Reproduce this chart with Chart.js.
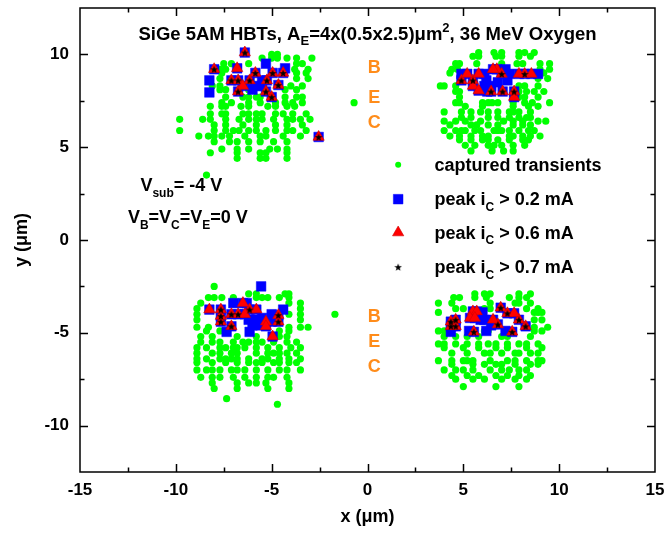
<!DOCTYPE html>
<html>
<head>
<meta charset="utf-8">
<script src="https://cdn.jsdelivr.net/npm/chart.js@4.4.1/dist/chart.umd.min.js"></script>
<style>
  html, body { margin: 0; padding: 0; background: #fff; }
  #wrap { width: 666px; height: 533px; }
</style>
</head>
<body>
<div id="wrap"><canvas id="chart" width="666" height="533"></canvas></div>
<script>
// Axis ticks (µm)
const xTicks = [-15, -10, -5, 0, 5, 10, 15];
const yTicks = [-10, -5, 0, 5, 10];
const minorStep = 2.5;

// Ion strike positions that produced a captured transient, grouped by row: [y, [x, ...]]
const capturedTopLeft = [
  [10.0, [-5.0, -4.7]],
  [9.8, [-5.5, -5.0, -4.7, -4.2, -3.7, -2.9]],
  [9.5, [-7.5, -7.1, -6.2, -3.7, -3.4]],
  [9.2, [-7.7, -7.4, -3.8, -3.1]],
  [9.0, [-7.6, -3.7, -3.2]],
  [8.7, [-7.7, -3.7, -3.1]],
  [8.3, [-8.1, -7.7, -4.0, -3.4]],
  [8.1, [-7.7, -7.4, -6.2, -4.3, -3.7]],
  [7.7, [-7.4, -6.5, -6.2, -5.8, -5.6, -4.3, -3.7, -3.4]],
  [7.4, [-7.6, -7.1, -6.2, -5.6, -4.8, -4.3, -3.9, -3.4]],
  [7.2, [-8.2, -7.6, -7.4, -6.6, -6.2, -5.2, -4.8, -4.2, -3.8]],
  [6.8, [-8.2, -7.6, -7.4, -6.5, -6.2, -5.8, -5.5, -4.8, -4.4, -3.9, -3.2]],
  [6.5, [-9.8, -8.6, -8.2, -7.4, -6.7, -6.2, -5.8, -5.5, -4.9, -4.2, -3.9, -3.5, -3.0]],
  [6.2, [-8.0, -7.4, -6.5, -5.8, -4.8, -4.2, -3.4]],
  [5.9, [-9.8, -8.0, -7.4, -7.0, -6.7, -6.2, -5.8, -5.3, -4.8, -4.2, -3.9, -3.2]],
  [5.6, [-8.8, -8.3, -8.0, -7.6, -7.2, -6.4, -5.6, -5.3, -4.4, -3.5]],
  [5.3, [-8.0, -7.2, -6.8, -6.2, -5.6, -4.9, -4.2]],
  [4.9, [-7.6, -6.8, -6.2, -5.1, -4.7, -4.2]],
  [4.7, [-8.2, -6.8, -5.6, -5.3, -4.2]],
  [4.4, [-6.8, -5.6, -5.3, -4.2]],
  [3.5, [-8.4]]
];
const capturedTopRight = [
  [10.1, [5.8, 6.6, 7.0, 7.9, 8.2, 8.7]],
  [9.9, [5.5, 5.8, 6.7, 7.0, 7.9, 8.5]],
  [9.5, [4.6, 4.8, 5.7, 7.0, 7.8, 8.1, 9.0, 9.5]],
  [9.2, [4.4, 4.7, 7.1, 9.0, 9.5]],
  [9.0, [4.3, 8.8, 9.2]],
  [8.7, [8.9, 9.4]],
  [8.3, [3.8, 4.0, 4.6, 7.9, 8.2, 8.9]],
  [8.0, [4.6, 4.8, 7.9, 8.3, 8.7, 9.2]],
  [7.7, [4.8, 7.9, 8.2, 8.9]],
  [7.4, [4.6, 4.8, 6.0, 6.3, 6.5, 6.8, 7.6, 8.2, 8.6, 9.5]],
  [7.2, [5.1, 6.0, 7.6, 8.4, 8.9]],
  [6.9, [4.0, 4.9, 5.4, 5.9, 6.3, 6.8, 7.4, 7.6, 7.9, 8.5]],
  [6.6, [4.9, 5.4, 6.3, 6.8, 7.4, 7.9, 8.3, 8.5]],
  [6.4, [4.0, 4.6, 5.1, 5.9, 7.1, 7.6, 8.1, 8.9, 9.3]],
  [6.2, [4.3, 5.4, 5.7, 6.3, 6.8, 7.6, 8.1, 8.5]],
  [5.9, [4.0, 4.6, 4.9, 5.1, 5.6, 5.9, 6.6, 6.8, 7.0, 7.4, 7.9, 8.4, 8.7]],
  [5.6, [4.3, 4.8, 5.4, 6.0, 6.3, 7.4, 7.6, 8.1, 8.5, 9.0]],
  [5.4, [4.8, 5.4, 6.0, 6.3, 6.8, 7.4, 8.1, 8.4]],
  [5.1, [5.1, 5.6, 6.3, 6.6, 7.0, 7.6, 8.2]],
  [4.8, [5.4, 6.5, 7.1, 7.6]],
  [7.4, [-0.7]]
];
const capturedBottomLeft = [
  [-2.5, [-8.0]],
  [-2.9, [-6.2, -5.8, -4.3, -4.1]],
  [-3.1, [-8.3, -8.0, -7.6, -7.0, -5.8, -5.5, -5.2, -4.6, -4.1]],
  [-3.4, [-8.7, -4.1, -3.5]],
  [-3.7, [-8.9, -3.5]],
  [-4.0, [-8.9, -4.1, -3.5, -1.7]],
  [-4.3, [-8.9, -3.5]],
  [-4.7, [-8.9, -8.3, -4.1, -3.5, -3.1]],
  [-4.9, [-8.4, -7.7, -4.6, -4.1]],
  [-5.2, [-8.7, -8.1, -6.8, -5.8, -4.6, -4.2]],
  [-5.5, [-8.7, -8.1, -7.7, -7.0, -6.5, -6.2, -5.8, -5.5, -4.9, -4.2, -3.7]],
  [-5.8, [-8.9, -8.4, -7.7, -7.4, -7.0, -6.8, -6.4, -5.8, -5.2, -4.6, -4.0, -3.5]],
  [-6.1, [-8.9, -8.1, -7.7, -7.1, -6.8, -5.8, -5.2, -4.9, -4.6, -4.2, -3.7]],
  [-6.4, [-8.9, -8.4, -7.7, -7.4, -7.1, -6.8, -6.2, -5.5, -5.2, -4.6, -4.1, -3.5]],
  [-6.6, [-8.9, -8.1, -7.4, -6.8, -6.2, -5.8, -5.5, -4.9, -4.6, -4.1, -3.7]],
  [-7.0, [-8.9, -8.4, -8.1, -7.7, -7.1, -6.8, -6.4, -5.8, -5.2, -4.6, -4.2, -3.5]],
  [-7.4, [-8.7, -8.1, -7.7, -7.0, -6.4, -5.8, -5.2, -4.9, -4.2]],
  [-7.7, [-8.1, -6.8, -6.2, -5.8, -5.3, -4.1]],
  [-8.0, [-8.0, -6.8, -5.2, -4.1]],
  [-8.55, [-7.35]],
  [-8.85, [-4.7]]
];
const capturedBottomRight = [
  [-2.9, [5.6, 6.1, 6.4, 7.9, 8.5]],
  [-3.1, [4.5, 4.8, 5.6, 6.2, 7.4, 7.9, 8.3]],
  [-3.4, [3.7, 4.4, 6.4, 7.7, 7.9, 8.5]],
  [-3.7, [4.6, 5.0, 6.1, 6.4, 8.3, 8.9]],
  [-3.9, [3.7, 8.7, 8.9, 9.1]],
  [-4.3, [8.7, 9.1]],
  [-4.7, [8.7, 9.4]],
  [-4.9, [3.7, 4.0, 6.1, 6.3, 8.7, 9.1]],
  [-5.2, [4.0, 4.6, 5.2, 5.8, 7.0, 7.3, 8.5]],
  [-5.6, [3.7, 4.0, 4.6, 5.2, 5.8, 6.3, 6.7, 7.3, 7.9, 8.3, 8.9]],
  [-5.8, [4.0, 5.0, 5.8, 6.7, 7.3, 8.3, 9.1]],
  [-6.1, [4.4, 5.2, 6.1, 6.4, 7.0, 7.7, 7.9, 8.5, 8.9]],
  [-6.5, [3.7, 4.4, 5.0, 5.2, 5.5, 6.4, 7.3, 7.7, 8.3, 8.9, 9.1]],
  [-6.7, [4.4, 5.5, 6.1, 6.7, 7.0, 7.7, 8.5, 8.9]],
  [-7.0, [4.0, 4.6, 5.0, 5.5, 6.4, 7.0, 7.4, 7.9, 8.3]],
  [-7.3, [4.4, 5.2, 5.8, 6.7, 7.3, 7.9, 8.5]],
  [-7.5, [4.6, 5.5, 6.1, 7.0, 7.7, 8.3]],
  [-7.9, [5.0, 6.7, 7.9]]
];

// Strikes with peak collector current above each threshold: [x, y]
const peakAbove02 = [
  [-6.4, 10.1], [-8.0, 9.2], [-7.1, 8.6], [-6.75, 8.6], [-6.75, 8.0], [-6.15, 8.6], [-5.85, 9.0],
  [-5.25, 8.6], [-4.95, 9.0], [-4.4, 9.0], [-4.65, 8.35], [-5.3, 8.0], [-5.0, 7.7], [-2.55, 5.55],
  [-6.8, 9.25], [-6.5, 8.3], [-5.3, 9.5], [-4.3, 9.25], [-8.25, 8.6], [-8.25, 7.95], [-5.8, 8.3],
  [-5.5, 8.3], [-6.0, 8.1], [-5.5, 8.6],
  [4.9, 8.6], [5.5, 8.6], [6.45, 8.0], [7.0, 8.95], [7.05, 8.0], [7.65, 8.0], [8.2, 8.95],
  [5.2, 8.95], [5.8, 8.95], [5.5, 8.3], [5.8, 8.05], [6.75, 9.2], [6.55, 9.2], [7.65, 7.7],
  [7.9, 8.95], [8.55, 8.95], [4.9, 8.95], [6.1, 8.95], [6.2, 8.6], [6.45, 8.3], [6.1, 8.3],
  [6.8, 8.5], [7.2, 9.2], [7.3, 8.6], [8.9, 8.95], [6.25, 8.0], [7.4, 8.95],
  [-7.65, -3.75], [-7.65, -4.1], [-7.65, -4.4], [-7.1, -4.0], [-6.75, -4.0], [-6.15, -3.75],
  [-7.1, -4.65], [-4.65, -4.05], [-4.65, -4.4], [-8.25, -3.75], [-6.5, -3.4], [-6.4, -4.0],
  [-5.8, -3.75], [-5.3, -4.4], [-5.3, -4.65], [-4.95, -5.2], [-5.55, -2.5], [-7.0, -3.4],
  [-6.3, -3.4], [-7.35, -4.95], [-6.15, -4.95], [-4.4, -3.75], [-5.5, -4.2], [-5.8, -4.3],
  [-6.0, -4.6], [-5.6, -4.6], [-5.0, -4.0], [-6.2, -4.3], [-5.0, -4.4],
  [4.35, -4.4], [4.6, -4.65], [4.6, -4.3], [4.35, -4.65], [5.55, -4.95], [6.95, -3.65], [7.3, -3.95],
  [6.8, -4.55], [7.9, -4.3], [8.25, -4.65], [7.55, -4.95], [5.5, -3.85], [5.7, -3.85], [5.35, -4.2],
  [5.6, -4.2], [6.55, -4.3], [7.65, -3.95], [6.1, -4.3], [6.45, -4.6], [6.2, -4.9], [5.9, -4.3],
  [5.3, -4.9], [6.0, -3.9], [4.35, -4.95], [7.2, -4.9]
];
const peakAbove06 = [
  [-6.4, 10.1], [-8.0, 9.2], [-7.1, 8.6], [-6.75, 8.6], [-6.75, 8.0], [-6.15, 8.6], [-5.85, 9.0],
  [-5.25, 8.6], [-4.95, 9.0], [-4.4, 9.0], [-4.65, 8.35], [-5.3, 8.0], [-5.0, 7.7], [-2.55, 5.55],
  [-6.8, 9.25], [-6.5, 8.3],
  [4.9, 8.6], [5.5, 8.6], [6.45, 8.0], [7.0, 8.95], [7.05, 8.0], [7.65, 8.0], [8.2, 8.95],
  [5.2, 8.95], [5.8, 8.95], [5.5, 8.3], [5.8, 8.05], [6.75, 9.2], [6.55, 9.2], [7.65, 7.7],
  [7.9, 8.95], [8.55, 8.95],
  [-7.65, -3.75], [-7.65, -4.1], [-7.65, -4.4], [-7.1, -4.0], [-6.75, -4.0], [-6.15, -3.75],
  [-7.1, -4.65], [-4.65, -4.05], [-4.65, -4.4], [-8.25, -3.75], [-6.5, -3.4], [-6.4, -4.0],
  [-5.8, -3.75], [-5.3, -4.4], [-5.3, -4.65], [-4.95, -5.2],
  [4.35, -4.4], [4.6, -4.65], [4.6, -4.3], [4.35, -4.65], [5.55, -4.95], [6.95, -3.65], [7.3, -3.95],
  [6.8, -4.55], [7.9, -4.3], [8.25, -4.65], [7.55, -4.95], [5.5, -3.85], [5.7, -3.85], [5.35, -4.2],
  [5.6, -4.2], [6.55, -4.3], [7.65, -3.95]
];
const peakAbove07 = [
  [-6.4, 10.1], [-8.0, 9.2], [-7.1, 8.6], [-6.75, 8.6], [-6.75, 8.0], [-6.15, 8.6], [-5.85, 9.0],
  [-5.25, 8.6], [-4.95, 9.0], [-4.4, 9.0], [-4.65, 8.35], [-5.3, 8.0], [-5.0, 7.7], [-2.55, 5.55],
  [4.9, 8.6], [5.5, 8.6], [6.45, 8.0], [7.0, 8.95], [7.05, 8.0], [7.65, 8.0], [8.2, 8.95],
  [-7.65, -3.75], [-7.65, -4.1], [-7.65, -4.4], [-7.1, -4.0], [-6.75, -4.0], [-6.15, -3.75],
  [-7.1, -4.65], [-4.65, -4.05], [-4.65, -4.4],
  [4.35, -4.4], [4.6, -4.65], [4.6, -4.3], [4.35, -4.65], [5.55, -4.95], [6.95, -3.65], [7.3, -3.95],
  [6.8, -4.55], [7.9, -4.3], [8.25, -4.65], [7.55, -4.95]
];

const seriesLabels = ['captured transients', 'peak i_C > 0.2 mA', 'peak i_C > 0.6 mA', 'peak i_C > 0.7 mA'];

const FONT = '"Liberation Sans", Arial, Helvetica, sans-serif';
const GREEN = '#00ff00', BLUE = '#0000ff', RED = '#ff0000', ORANGE = '#ff8c1a';

const rowsToPoints = rows => rows.flatMap(([y, xs]) => xs.map(x => ({ x, y })));
const pairsToPoints = pairs => pairs.map(([x, y]) => ({ x, y }));

// small filled five-pointed star used as a point style
function makeStar(size) {
  const c = document.createElement('canvas');
  c.width = size; c.height = size;
  const g = c.getContext('2d');
  const r = size / 2, ri = r * 0.42;
  g.beginPath();
  for (let i = 0; i < 10; i++) {
    const rad = (i % 2 === 0 ? r : ri);
    const a = -Math.PI / 2 + i * Math.PI / 5;
    const px = r + rad * Math.cos(a), py = r + 0.5 + rad * Math.sin(a);
    i === 0 ? g.moveTo(px, py) : g.lineTo(px, py);
  }
  g.closePath();
  g.fillStyle = '#000';
  g.fill();
  return c;
}
const starImg = makeStar(8);

// text with sub/superscript parts: [text, mode] where mode 0 = normal, 1 = sub, 2 = sup
function richText(ctx, parts, x, y, align, size, color) {
  const big = `bold ${size}px ${FONT}`;
  const small = `bold ${Math.round(size * 0.68)}px ${FONT}`;
  const widths = parts.map(([t, m]) => { ctx.font = m ? small : big; return ctx.measureText(t).width; });
  const total = widths.reduce((a, b) => a + b, 0);
  let cx = align === 'center' ? x - total / 2 : align === 'right' ? x - total : x;
  ctx.fillStyle = color;
  ctx.textAlign = 'left';
  ctx.textBaseline = 'alphabetic';
  parts.forEach(([t, m], i) => {
    ctx.font = m ? small : big;
    const dy = m === 1 ? size * 0.32 : m === 2 ? -size * 0.42 : 0;
    ctx.fillText(t, cx, y + dy);
    cx += widths[i];
  });
}

const decorations = {
  id: 'decorations',
  afterDraw(chart) {
    const { ctx, chartArea: a, scales: { x, y } } = chart;
    const X = v => x.getPixelForValue(v), Y = v => y.getPixelForValue(v);
    ctx.save();

    // frame with inward major/minor ticks on all four sides
    ctx.strokeStyle = '#000';
    ctx.lineWidth = 1.5;
    ctx.beginPath();
    for (let v = x.min + minorStep; v < x.max; v += minorStep) {
      const px = Math.round(X(v)) + 0.5;
      const len = Math.abs(v % 5) < 1e-6 ? 8 : 4.5;
      ctx.moveTo(px, a.bottom); ctx.lineTo(px, a.bottom - len);
      ctx.moveTo(px, a.top); ctx.lineTo(px, a.top + len);
    }
    for (let v = y.min + minorStep; v < y.max; v += minorStep) {
      const py = Math.round(Y(v)) + 0.5;
      const len = Math.abs(v % 5) < 1e-6 ? 8 : 4.5;
      ctx.moveTo(a.left, py); ctx.lineTo(a.left + len, py);
      ctx.moveTo(a.right, py); ctx.lineTo(a.right - len, py);
    }
    ctx.stroke();
    ctx.strokeRect(a.left, a.top, a.right - a.left, a.bottom - a.top);

    // title inside the frame
    richText(ctx, [['SiGe 5AM HBTs, A', 0], ['E', 1], ['=4x(0.5x2.5)\u03bcm', 0], ['2', 2], [', 36 MeV Oxygen', 0]],
      X(0), Y(10.8), 'center', 18.5, '#000');

    // bias conditions
    richText(ctx, [['V', 0], ['sub', 1], ['= -4 V', 0]], X(-11.85), Y(2.62), 'left', 18, '#000');
    richText(ctx, [['V', 0], ['B', 1], ['=V', 0], ['C', 1], ['=V', 0], ['E', 1], ['=0 V', 0]], X(-12.5), Y(0.9), 'left', 18, '#000');

    // terminal labels next to each device row
    const terms = [['B', 9.0], ['E', 7.4], ['C', 6.05], ['B', -4.4], ['E', -5.75], ['C', -7.1]];
    terms.forEach(([t, v]) => richText(ctx, [[t, 0]], X(0.35), Y(v), 'center', 18, ORANGE));

    // legend
    const lx = X(1.6), tx = X(3.5);
    const rows = [4.05, 2.2, 0.4, -1.45];
    const H = Chart.helpers;
    chart.data.datasets.slice().sort((p, q) => p.legendIndex - q.legendIndex).forEach((ds, i) => {
      const cy = Y(rows[i]);
      ctx.fillStyle = ds.pointBackgroundColor;
      ctx.strokeStyle = ds.pointBorderColor;
      ctx.lineWidth = ds.pointBorderWidth;
      const r = ds.legendIndex === 0 ? 3 : ds.pointRadius;
      H.drawPoint(ctx, { pointStyle: ds.pointStyle, radius: r, rotation: 0, borderWidth: ds.pointBorderWidth }, lx, cy);
      const lab = seriesLabels[ds.legendIndex];
      const parts = lab.includes('i_C')
        ? [[lab.split('i_C')[0] + 'i', 0], ['C', 1], [lab.split('i_C')[1], 0]]
        : [[lab, 0]];
      richText(ctx, parts, tx, cy + 6, 'left', 18, '#000');
    });
    ctx.restore();
  }
};

const tickFont = { family: FONT, size: 17, weight: 'bold' };
const titleFont = { family: FONT, size: 18, weight: 'bold' };

new Chart(document.getElementById('chart'), {
  type: 'scatter',
  data: {
    datasets: [
      {
        label: seriesLabels[3], legendIndex: 3, order: 0,
        data: pairsToPoints(peakAbove07),
        pointStyle: starImg, pointRadius: 4, pointBackgroundColor: '#000', pointBorderColor: '#000', pointBorderWidth: 0
      },
      {
        label: seriesLabels[2], legendIndex: 2, order: 1,
        data: pairsToPoints(peakAbove06),
        pointStyle: 'triangle', pointRadius: 6.5, pointBackgroundColor: RED, pointBorderColor: '#d00000', pointBorderWidth: 0.6
      },
      {
        label: seriesLabels[1], legendIndex: 1, order: 2,
        data: pairsToPoints(peakAbove02),
        pointStyle: 'rect', pointRadius: 6.8, pointBackgroundColor: BLUE, pointBorderColor: BLUE, pointBorderWidth: 0.5
      },
      {
        label: seriesLabels[0], legendIndex: 0, order: 3,
        data: [capturedTopLeft, capturedTopRight, capturedBottomLeft, capturedBottomRight].flatMap(rowsToPoints),
        pointStyle: 'circle', pointRadius: 3.6, pointBackgroundColor: GREEN, pointBorderColor: GREEN, pointBorderWidth: 0
      }
    ]
  },
  options: {
    responsive: false,
    animation: false,
    devicePixelRatio: 1,
    layout: { padding: { top: 8, right: 11, left: 0, bottom: 0 } },
    plugins: { legend: { display: false }, tooltip: { enabled: false } },
    scales: {
      x: {
        type: 'linear', min: -15, max: 15,
        afterBuildTicks: s => { s.ticks = xTicks.map(v => ({ value: v })); },
        afterFit: s => { s.height = 61; s.paddingLeft = 0; s.paddingRight = 0; },
        ticks: { font: tickFont, color: '#000', padding: 8, maxRotation: 0, autoSkip: false },
        grid: { display: false, drawTicks: false },
        border: { display: false },
        title: { display: true, text: 'x (\u03bcm)', font: titleFont, color: '#000', padding: { top: 0, bottom: 5 } }
      },
      y: {
        type: 'linear', min: -12.5, max: 12.5,
        afterBuildTicks: s => { s.ticks = yTicks.map(v => ({ value: v })); },
        afterFit: s => { s.width = 80; s.paddingTop = 0; s.paddingBottom = 0; },
        ticks: { font: tickFont, color: '#000', padding: 11, autoSkip: false },
        grid: { display: false, drawTicks: false },
        border: { display: false },
        title: { display: true, text: 'y (\u03bcm)', font: titleFont, color: '#000', padding: { top: 11, bottom: 0 } }
      }
    }
  },
  plugins: [decorations]
});
</script>
</body>
</html>
